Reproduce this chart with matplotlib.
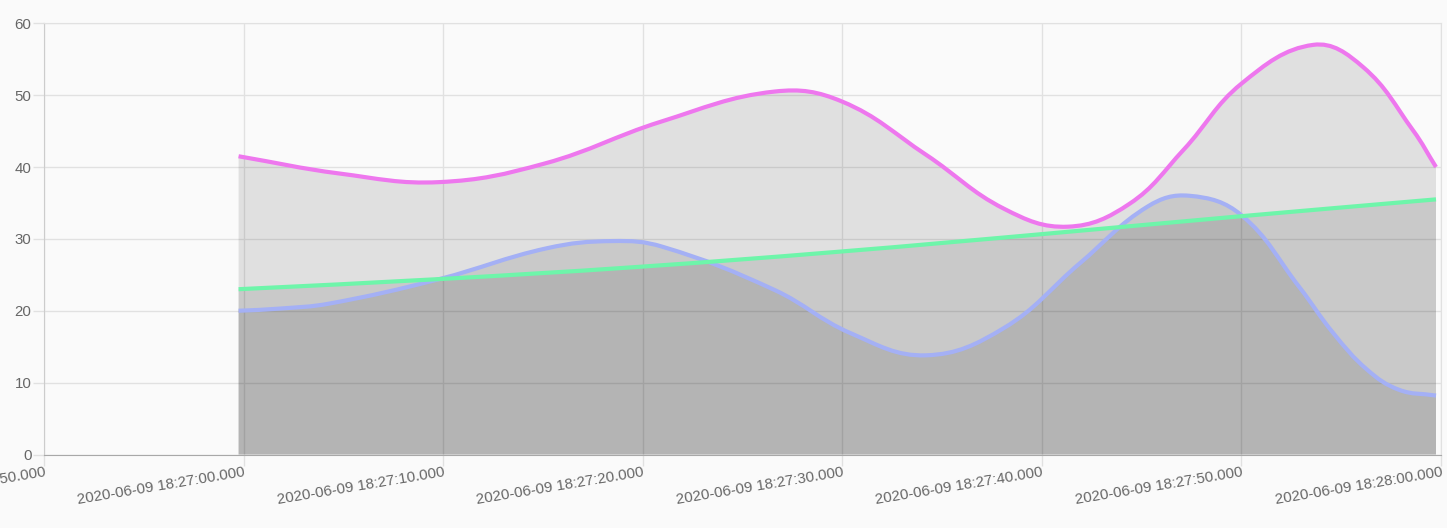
import numpy as np
import matplotlib
matplotlib.use("Agg")
import matplotlib.pyplot as plt
import matplotlib.dates as mdates
from matplotlib.path import Path
from matplotlib.patches import PathPatch
import datetime as dt

# x axis runs from 18:26:50 to 18:28:00; sample times are seconds after 18:26:50
start = "2020-06-09 18:26:50"
span_s = 70

violet_t = [9.75, 14.8, 19.8, 25.1, 30.9, 36.6, 40.0, 44.2, 48.1, 51.3, 54.4,
            57.1, 60.0, 63.6, 66.1, 68.6, 69.75]
violet = [41.5, 39.1, 37.9, 40.5, 46.3, 50.5, 49.1, 41.7, 34.2, 31.7, 34.9,
          42.4, 51.6, 57.0, 53.9, 45.1, 40.0]

blue_t = [9.75, 11.8, 14.3, 19.8, 25.2, 28.5, 31.0, 36.6, 40.4, 44.2, 48.1,
          51.9, 55.3, 57.4, 60.0, 62.9, 64.6, 66.3, 67.9, 69.75]
blue = [20.0, 20.3, 21.0, 24.4, 28.7, 29.7, 28.9, 22.9, 16.9, 13.8, 17.6,
        26.6, 34.5, 36.0, 33.3, 23.3, 16.9, 11.8, 9.0, 8.2]

green_t = [9.75, 19.75, 29.75, 39.75, 49.75, 59.75, 69.75]
green = [23.0, 24.4, 26.1, 28.2, 30.6, 33.1, 35.5]

y_max = 60

t0 = mdates.date2num(dt.datetime.strptime(start, "%Y-%m-%d %H:%M:%S"))
day = 86400.0


def to_num(ts):
    return t0 + np.array(ts) / day


x0, x1 = t0, t0 + span_s / day

fig = plt.figure(figsize=(14.47, 5.28), dpi=100, facecolor="#fafafa")
ax = fig.add_axes([44 / 1447, (528 - 454.5) / 528, 1397 / 1447, 431.2 / 528])
ax.set_facecolor("#fafafa")
ax.set_xlim(x0, x1)
ax.set_ylim(0, y_max)

# pixel scales, for a chart.js style bezier (tension 0.4)
sx = 1397 / (x1 - x0)
sy = 431.2 / y_max


def spline_path(x, y, tension=0.4, close=False):
    px = np.array(x) * sx
    py = np.array(y) * sy
    n = len(px)
    prev_cp, next_cp = [], []
    for i in range(n):
        p = (px[max(i - 1, 0)], py[max(i - 1, 0)])
        c = (px[i], py[i])
        nx = (px[min(i + 1, n - 1)], py[min(i + 1, n - 1)])
        d01 = np.hypot(c[0] - p[0], c[1] - p[1])
        d12 = np.hypot(nx[0] - c[0], nx[1] - c[1])
        tot = d01 + d12
        s01 = d01 / tot if tot else 0
        s12 = d12 / tot if tot else 0
        fa, fb = tension * s01, tension * s12
        prev_cp.append((c[0] - fa * (nx[0] - p[0]), c[1] - fa * (nx[1] - p[1])))
        next_cp.append((c[0] + fb * (nx[0] - p[0]), c[1] + fb * (nx[1] - p[1])))
    verts = [(px[0], py[0])]
    codes = [Path.MOVETO]
    for i in range(n - 1):
        verts += [next_cp[i], prev_cp[i + 1], (px[i + 1], py[i + 1])]
        codes += [Path.CURVE4] * 3
    verts = [(a / sx, b / sy) for a, b in verts]
    if close:
        verts += [(x[-1], 0), (x[0], 0), (x[0], y[0])]
        codes += [Path.LINETO, Path.LINETO, Path.CLOSEPOLY]
    return Path(verts, codes)


series = [
    (violet_t, violet, "#ee77ee", 5),
    (green_t, green, "#6ef5aa", 4),
    (blue_t, blue, "#a4b0f5", 3),
]

for ts, vals, col, z in series:
    xs = to_num(ts)
    ax.add_patch(PathPatch(spline_path(xs, vals, close=True), facecolor=(0, 0, 0, 0.1),
                           edgecolor="none", zorder=2))
    ax.add_patch(PathPatch(spline_path(xs, vals), facecolor="none", edgecolor=col,
                           lw=3, capstyle="butt", zorder=z))

ax.xaxis.set_major_locator(mdates.SecondLocator(bysecond=range(0, 60, 10)))
ax.xaxis.set_major_formatter(mdates.DateFormatter("%Y-%m-%d %H:%M:%S.000"))
ax.set_yticks(range(0, y_max + 1, 10))

ax.set_axisbelow(True)
ax.grid(True)
ax.tick_params(axis="both", length=8, width=1, color="#e1e1e1",
               grid_color="#e1e1e1", grid_linewidth=1,
               labelsize=10.8, labelcolor="#666666")
ax.tick_params(axis="y", pad=1)
ax.tick_params(axis="x", pad=0)
for lab in ax.get_xticklabels():
    lab.set_rotation(9.5)
    lab.set_ha("right")
    lab.set_va("top")
    lab.set_rotation_mode("anchor")
    lab.set_fontfamily("Liberation Sans")
for lab in ax.get_yticklabels():
    lab.set_fontfamily("Liberation Sans")

for s in ["top", "right"]:
    ax.spines[s].set_color("#e1e1e1")
ax.spines["left"].set_color("#cccccc")
ax.spines["bottom"].set_color("#a8a8a8")

fig.savefig("out.png", dpi=100, facecolor="#fafafa")
